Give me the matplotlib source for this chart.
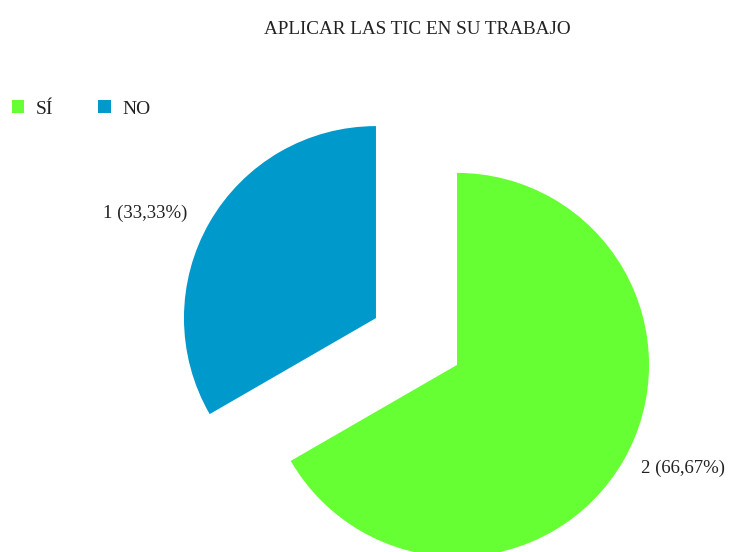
import matplotlib
matplotlib.use("Agg")
import matplotlib.pyplot as plt

# datos
categorias = ['SÍ', 'NO']
valores = [2, 1]
colores = ['#66FF33', '#0099CC']
titulo = 'APLICAR LAS TIC EN SU TRABAJO'

plt.rcParams['font.family'] = ['Liberation Serif', 'DejaVu Serif']

W, H = 731, 552
fig = plt.figure(figsize=(W / 100, H / 100), dpi=100)
ax = fig.add_axes([0, 0, 1, 1])

total = sum(valores)
# explode en unidades de datos (pixeles)
wedges, _ = ax.pie(valores, colors=colores, startangle=90, counterclock=False,
                   explode=[46.8, 46.8], radius=192, center=(416.5, H - 341.5),
                   frame=True, wedgeprops={'linewidth': 0})
ax.set_xlim(0, W)
ax.set_ylim(0, H)
ax.set_aspect('equal')
ax.axis('off')

etiquetas = [f"{v} ({v / total * 100:.2f}%)".replace('.', ',') for v in valores]
ax.text(641, H - 468, etiquetas[0], fontsize=13.5, ha='left', va='center', color='#222222')
ax.text(103, H - 213, etiquetas[1], fontsize=13.5, ha='left', va='center', color='#222222')

ax.text(417, H - 29, titulo, fontsize=13.8, ha='center', va='center', color='#222222')

leg = ax.legend(wedges, categorias, loc='upper left', bbox_to_anchor=(-0.008, 0.85),
                ncol=2, frameon=False, fontsize=14, handlelength=0.65, handleheight=0.65,
                handletextpad=0.6, columnspacing=2.3)
for t in leg.get_texts():
    t.set_color('#222222')

fig.savefig('out.png', dpi=100, facecolor='white')
